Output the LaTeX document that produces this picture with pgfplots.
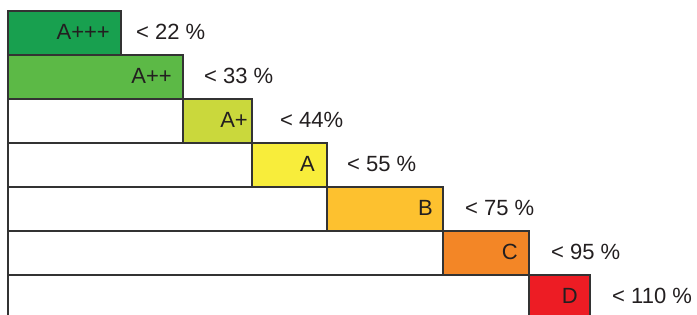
\documentclass[border=0pt]{standalone}
\usepackage{pgfplots}
\usepackage{pgfplotstable}
\usepackage{fontspec}
\setmainfont{Liberation Sans}
\pgfplotsset{compat=1.18}
\definecolor{cAppp}{HTML}{18A04F}
\definecolor{cApp}{HTML}{5CB946}
\definecolor{cAp}{HTML}{CAD83C}
\definecolor{cA}{HTML}{F8ED3B}
\definecolor{cB}{HTML}{FDC12F}
\definecolor{cC}{HTML}{F38626}
\definecolor{cD}{HTML}{ED1C24}
\definecolor{border}{HTML}{333333}
\definecolor{txt}{HTML}{231F20}
\pgfplotstableread{
x y label
102 1.14 A+++
164 2.14 A++
240 3.14 A+
307 4.14 A
425 5.14 B
510 6.14 C
570 7.14 D
}\innerlabels
\pgfplotstableread{
x y label
128 1.14 {< 22 \%}
196 2.14 {< 33 \%}
272 3.14 {< 44\%}
339 4.14 {< 55 \%}
457 5.14 {< 75 \%}
543 6.14 {< 95 \%}
604 7.14 {< 110 \%}
}\outerlabels
\begin{document}
\begin{tikzpicture}
\begin{axis}[
  scale only axis, width=697pt, height=315pt,
  xmin=-8, xmax=689, ymin=0.25, ymax=7.409, y dir=reverse,
  axis line style={draw=none}, xtick=\empty, ytick=\empty,
  clip=true,
  bars/.style={xbar, bar width=1, bar shift=0pt, draw=border, line width=1.2pt},
]
% full bars (colored) drawn first
\addplot[bars, fill=cAppp] coordinates {(113,1)};
\addplot[bars, fill=cApp] coordinates {(175,2)};
\addplot[bars, fill=cAp] coordinates {(244,3)};
\addplot[bars, fill=cA] coordinates {(319,4)};
\addplot[bars, fill=cB] coordinates {(435,5)};
\addplot[bars, fill=cC] coordinates {(521,6)};
\addplot[bars, fill=cD] coordinates {(582,7)};
% white part on top
\addplot[bars, fill=white] coordinates {(175,3) (244,4) (319,5) (435,6) (521,7)};
% labels
\addplot[draw=none, mark=none, nodes near coords, point meta=explicit symbolic,
  every node near coord/.style={anchor=base east, inner sep=0pt, text=txt, font=\fontsize{22}{26}\selectfont}]
  table[x=x, y=y, meta=label] {\innerlabels};
\addplot[draw=none, mark=none, nodes near coords, point meta=explicit symbolic,
  every node near coord/.style={anchor=base west, inner sep=0pt, text=txt, font=\fontsize{22}{26}\selectfont}]
  table[x=x, y=y, meta=label] {\outerlabels};
\end{axis}
\end{tikzpicture}
\end{document}
